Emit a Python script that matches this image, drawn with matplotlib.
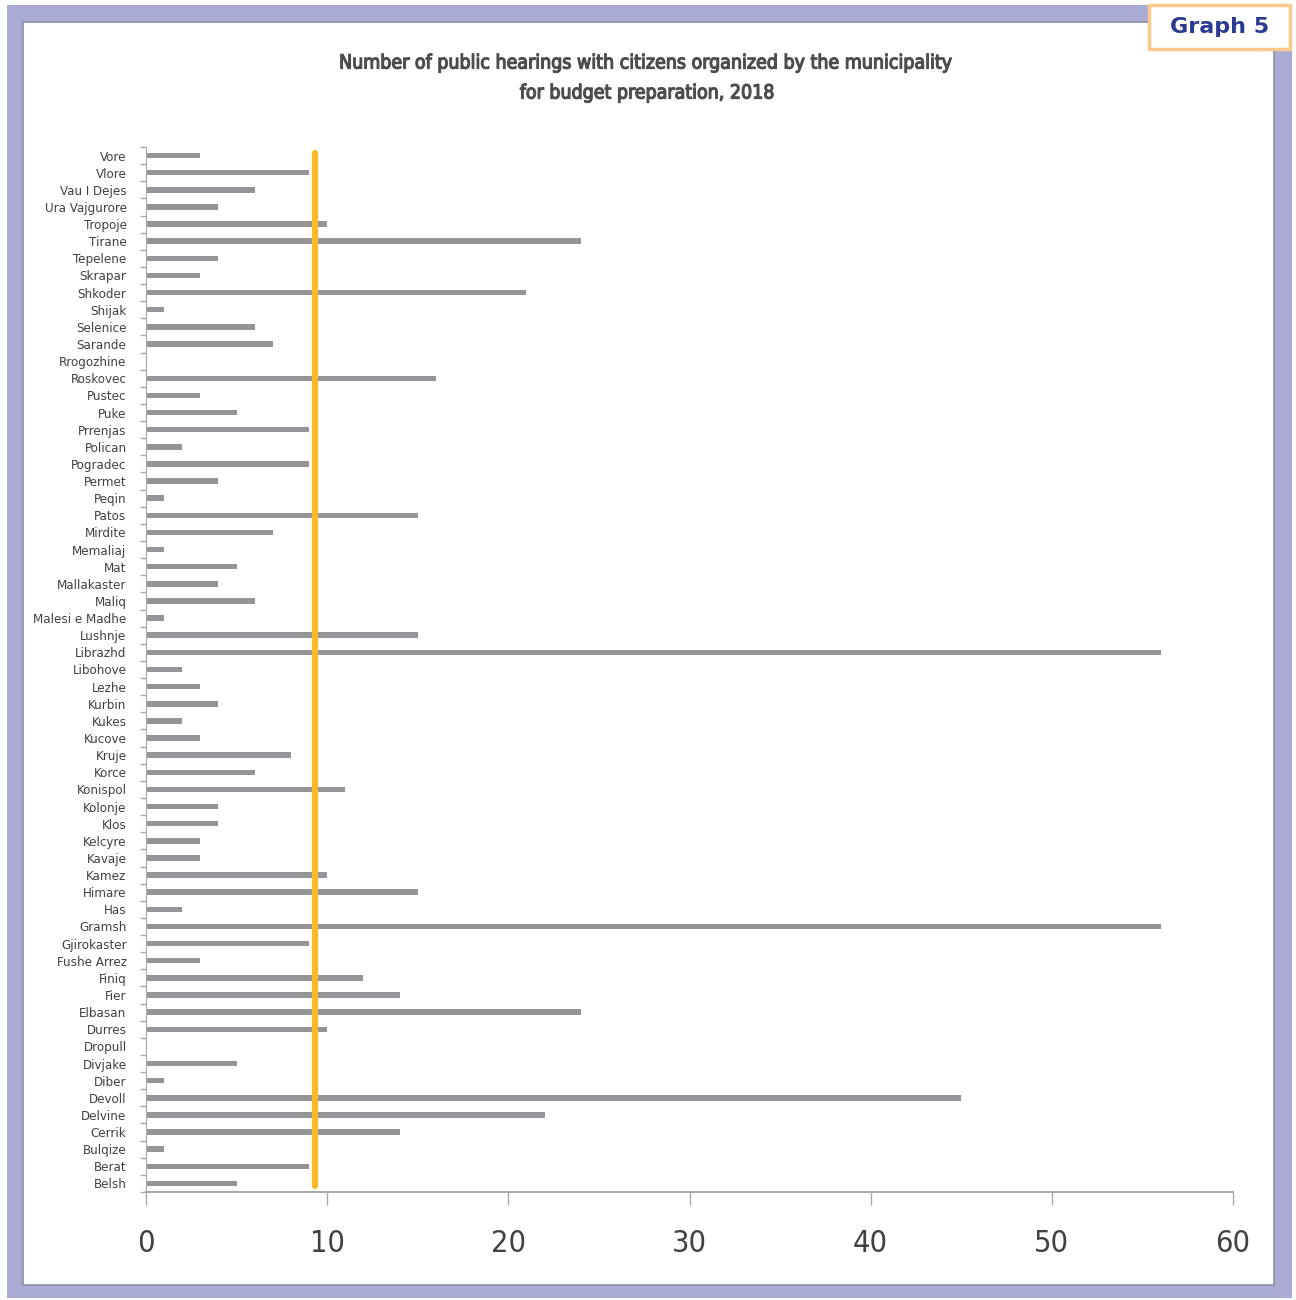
import matplotlib
matplotlib.use('Agg')
import matplotlib.pyplot as plt
import matplotlib.patheffects as pe
from matplotlib.patches import Rectangle
from matplotlib.ticker import FixedLocator
import numpy as np

# municipalities, top to bottom as in the chart
municipalities = ['Vore', 'Vlore', 'Vau I Dejes', 'Ura Vajgurore', 'Tropoje', 'Tirane',
                  'Tepelene', 'Skrapar', 'Shkoder', 'Shijak', 'Selenice', 'Sarande',
                  'Rrogozhine', 'Roskovec', 'Pustec', 'Puke', 'Prrenjas', 'Polican',
                  'Pogradec', 'Permet', 'Peqin', 'Patos', 'Mirdite', 'Memaliaj', 'Mat',
                  'Mallakaster', 'Maliq', 'Malesi e Madhe', 'Lushnje', 'Librazhd',
                  'Libohove', 'Lezhe', 'Kurbin', 'Kukes', 'Kucove', 'Kruje', 'Korce',
                  'Konispol', 'Kolonje', 'Klos', 'Kelcyre', 'Kavaje', 'Kamez', 'Himare',
                  'Has', 'Gramsh', 'Gjirokaster', 'Fushe Arrez', 'Finiq', 'Fier',
                  'Elbasan', 'Durres', 'Dropull', 'Divjake', 'Diber', 'Devoll',
                  'Delvine', 'Cerrik', 'Bulqize', 'Berat', 'Belsh']
hearings = [3, 9, 6, 4, 10, 24,
            4, 3, 21, 1, 6, 7,
            0, 16, 3, 5, 9, 2,
            9, 4, 1, 15, 7, 1, 5,
            4, 6, 1, 15, 56,
            2, 3, 4, 2, 3, 8, 6,
            11, 4, 4, 3, 3, 10, 15,
            2, 56, 9, 3, 12, 14,
            24, 10, 0, 5, 1, 45,
            22, 14, 1, 9, 5]
average = 9.33
x_ticks = [0, 10, 20, 30, 40, 50, 60]

narrow = ['Liberation Sans Narrow', 'DejaVu Sans']
axis_grey = '#a7a9ac'
text_grey = '#414042'

fig = plt.figure(figsize=(12.96, 13.0), dpi=100)
fig.patch.set_facecolor('white')

# lavender frame and white panel
fig.patches.append(Rectangle((7/1296, 1 - 1298/1300), 1285/1296, 1293/1300,
                             transform=fig.transFigure, facecolor='#a9abd4',
                             edgecolor='none', zorder=0))
fig.patches.append(Rectangle((23/1296, 1 - 1285/1300), 1251/1296, 1263/1300,
                             transform=fig.transFigure, facecolor='white',
                             edgecolor='#8c8fa3', linewidth=1.2, zorder=1))
# "Graph 5" badge
fig.patches.append(Rectangle((1149/1296, 1 - 49/1300), 141/1296, 44/1300,
                             transform=fig.transFigure, facecolor='white',
                             edgecolor='#fcc98a', linewidth=2.5, zorder=2))
fig.text(1220/1296, 1 - 27/1300, 'Graph 5', ha='center', va='center',
         fontsize=16, fontweight='bold', color='#2b3990', family=['DejaVu Sans'])

for txt, ypx in [('Number of public hearings with citizens organized by the municipality', 63),
                 ('for budget preparation, 2018', 93)]:
    fig.text(648/1296, 1 - ypx/1300, txt, ha='center', va='center', fontsize=14,
             fontstretch='condensed', color='#4d4d4f', family=narrow,
             path_effects=[pe.withStroke(linewidth=0.9, foreground='#4d4d4f')])

ax = fig.add_axes([146/1296, 1 - 1192/1300, 1087/1296, 1045/1300])
ax.set_facecolor('none')
ax.set_zorder(3)

ypos = np.arange(len(municipalities))
ax.barh(ypos, hearings, height=0.32, color='#939598', zorder=2)
ax.plot([average, average], [-0.15, len(municipalities) - 0.85], color='#fbba2a',
        linewidth=4.5, solid_capstyle='round', zorder=3)

ax.set_xlim(0, 60)
ax.set_ylim(len(municipalities) - 0.5, -0.5)

ax.set_yticks(ypos)
ax.set_yticklabels(municipalities, family=narrow, fontsize=9.5, color=text_grey,
                   fontstretch='condensed')
ax.yaxis.set_minor_locator(FixedLocator(np.arange(-0.5, len(municipalities), 1)))
ax.tick_params(axis='y', which='major', length=0, pad=14)
ax.tick_params(axis='y', which='minor', length=4, color=axis_grey, width=1)

ax.set_xticks(x_ticks)
ax.set_xticklabels([str(v) for v in x_ticks], family=narrow, fontsize=22,
                   color=text_grey, fontstretch='condensed', fontweight='light')
ax.tick_params(axis='x', length=9, color=axis_grey, width=1, pad=18)

for side in ['top', 'right']:
    ax.spines[side].set_visible(False)
ax.spines['left'].set_color(axis_grey)
ax.spines['bottom'].set_color(axis_grey)
ax.spines['bottom'].set_linewidth(1.5)

plt.savefig('out.png', dpi=100)
